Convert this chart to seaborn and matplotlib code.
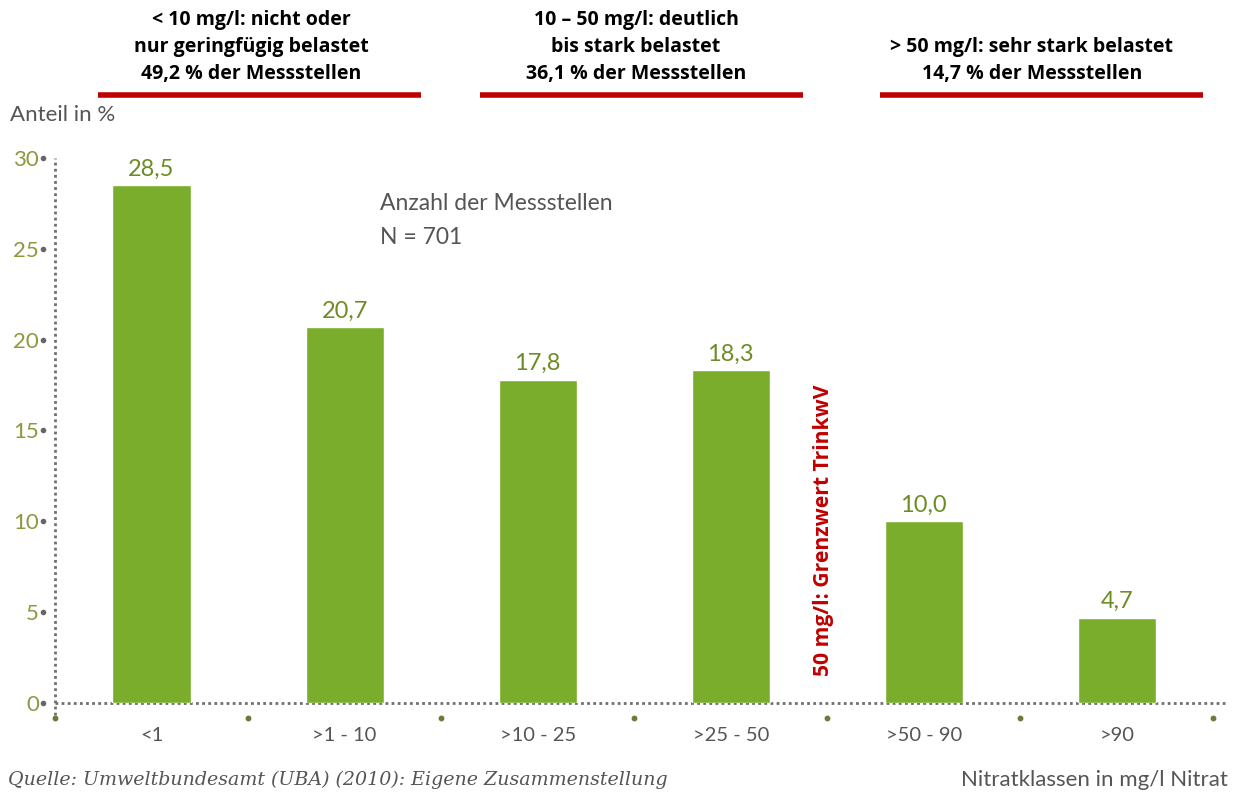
import matplotlib
matplotlib.use("Agg")
import matplotlib.pyplot as plt
import matplotlib.transforms as mtransforms
import seaborn as sns
import pandas as pd

categories = ["<1", ">1 - 10", ">10 - 25", ">25 - 50", ">50 - 90", ">90"]
values = [28.5, 20.7, 17.8, 18.3, 10.0, 4.7]
value_labels = ["28,5", "20,7", "17,8", "18,3", "10,0", "4,7"]
yticks = [0, 5, 10, 15, 20, 25, 30]

header_lines = [
    ["< 10 mg/l: nicht oder", "nur geringfügig belastet", "49,2 % der Messstellen"],
    ["10 – 50 mg/l: deutlich", "bis stark belastet", "36,1 % der Messstellen"],
    ["> 50 mg/l: sehr stark belastet", "14,7 % der Messstellen"],
]

sns.set_theme(style="white")
plt.rcParams['font.family'] = ['DejaVu Sans']

df = pd.DataFrame({"Klasse": categories, "Anteil": values})

W, H = 1237, 794
fig = plt.figure(figsize=(W / 100, H / 100), dpi=100)
ax = fig.add_axes([55 / W, 1 - 703 / H, 1170 / W, (703 - 147) / H])

BAR = "#7aad2b"
OLIVE = "#6e8c25"
GREY = "#555555"
RED = "#c00000"

sns.barplot(data=df, x="Klasse", y="Anteil", color=BAR, width=0.405,
            saturation=1, ax=ax, zorder=3)
ax.set_xlim(-0.5, 5.56)
ax.set_ylim(0, 30.6)
for s in ax.spines.values():
    s.set_visible(False)
ax.set_xlabel("")
ax.set_ylabel("")
ax.grid(False)

# y ticks
ax.set_yticks(yticks)
ax.set_yticklabels([str(t) for t in yticks], color="#8a9a3c", fontsize=16,
                   family="Lato")
ax.tick_params(axis="y", length=0, pad=11.5)
ax.tick_params(axis="x", length=0, pad=17)
ax.set_xticks(range(len(categories)))
ax.set_xticklabels(categories, color=GREY, fontsize=14.5, family="Lato")

blend = mtransforms.blended_transform_factory(ax.transAxes, ax.transData)
ax.plot([-12 / 1170] * len(yticks), yticks, "o", ms=3, color="#666666",
        transform=blend, clip_on=False, zorder=4)

# dotted axes
ax.plot([-0.5, 5.56], [0, 0], linestyle=(0, (1, 1.2)), color="#707070", lw=2,
        clip_on=False, zorder=2)
ax.plot([-0.5, -0.5], [-0.65, 30], linestyle=(0, (1, 1.2)), color="#707070", lw=2,
        clip_on=False, zorder=2)

# boundary dots below axis
bounds = [i - 0.5 for i in range(len(categories) + 1)]
ax.plot(bounds, [-0.85] * len(bounds), "o", ms=3.2, color="#6b7a3a",
        clip_on=False, zorder=4)

# value labels
for i, (v, lab) in enumerate(zip(values, value_labels)):
    ax.text(i, v + 0.3, lab, ha="center", va="bottom", color=OLIVE,
            fontsize=17, family="Lato")

fig.text(380 / W, 1 - 203 / H, "Anzahl der Messstellen", ha="left", va="center",
         fontsize=16.5, color=GREY, family="Lato")
fig.text(380 / W, 1 - 238 / H, "N = 701", ha="left", va="center",
         fontsize=16.5, color=GREY, family="Lato")

fig.text(10 / W, 1 - 115 / H, "Anteil in %", ha="left", va="center",
         fontsize=16, color=GREY, family="Lato")

fig.text(8 / W, 1 - 780 / H,
         "Quelle: Umweltbundesamt (UBA) (2010): Eigene Zusammenstellung",
         ha="left", va="center", fontsize=13.7, color=GREY, family="DejaVu Serif",
         style="italic")
fig.text(1228 / W, 1 - 780 / H, "Nitratklassen in mg/l Nitrat", ha="right",
         va="center", fontsize=16, color=GREY, family="Lato")

# headers
header_x = [251, 636, 1032]
header_y0 = [20, 20, 47]
for x, y0, lines in zip(header_x, header_y0, header_lines):
    for k, line in enumerate(lines):
        fig.text(x / W, 1 - (y0 + 27 * k) / H, line, ha="center", va="center",
                 fontsize=14, fontweight="bold", color="black",
                 family="Open Sans")

for x0, x1 in [(98, 421), (480, 803), (880, 1203)]:
    fig.add_artist(plt.Line2D([x0 / W, x1 / W], [1 - 95 / H] * 2,
                              transform=fig.transFigure, color=RED, lw=4,
                              solid_capstyle="butt"))

fig.text(823 / W, 1 - 530 / H, "50 mg/l: Grenzwert TrinkwV", rotation=90,
         ha="center", va="center", fontsize=15.2, fontweight="bold", color=RED,
         family="Open Sans")

fig.savefig("out.png", dpi=100, facecolor="white")
